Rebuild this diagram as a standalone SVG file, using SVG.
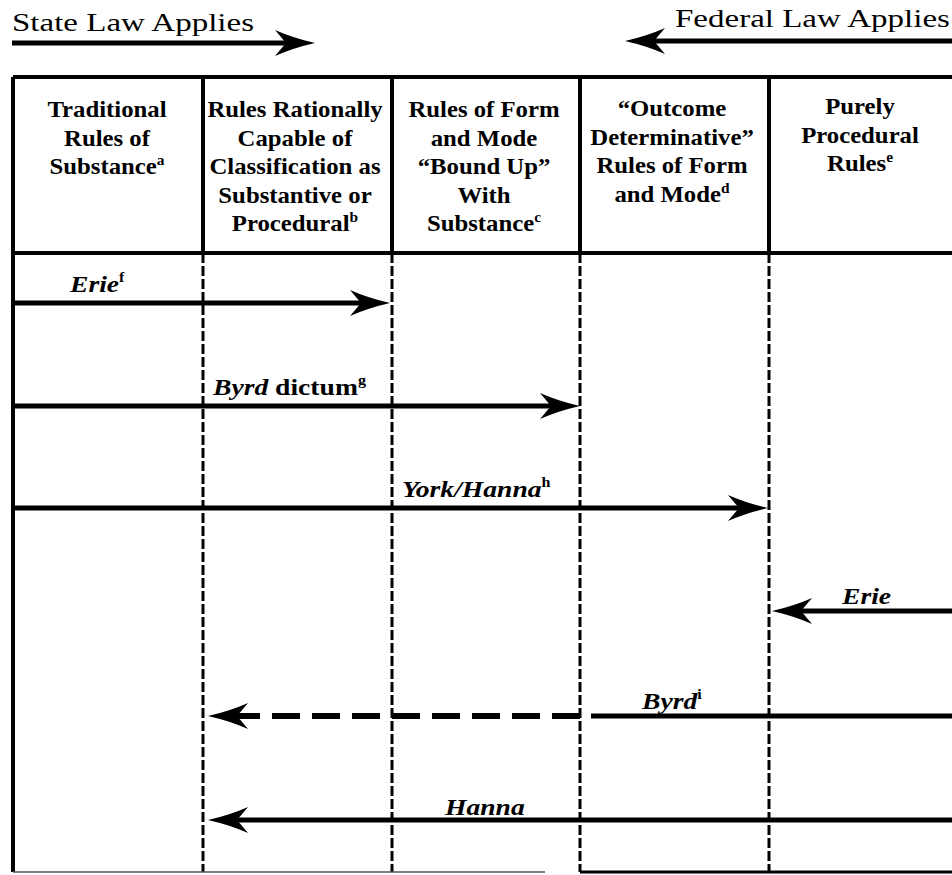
<svg xmlns="http://www.w3.org/2000/svg" width="952" height="875" viewBox="0 0 952 875">
<style>
text{font-family:"Liberation Serif","Times New Roman",serif;fill:#000}
.top{font-size:26px}
.h{font-size:22.5px;font-weight:bold;text-anchor:middle}
.lbl{font-size:24px;font-weight:bold;font-style:italic}
.up{font-style:normal}
.sup{font-size:14px;font-style:normal;font-weight:bold}
.hsup{font-size:14px}
.ar{stroke:#000;stroke-width:5;fill:none;marker-end:url(#ah)}
.ln{stroke:#000;stroke-width:5;fill:none}
.dashar{stroke:#000;stroke-width:6;fill:none;stroke-dasharray:28 12;marker-end:url(#ah)}
.bd{stroke:#000;stroke-width:4;fill:none}
.dv{stroke:#000;stroke-width:3;fill:none;stroke-dasharray:10 3}
</style>
<defs>
<marker id="ah" markerUnits="userSpaceOnUse" viewBox="0 0 40 26" markerWidth="40" markerHeight="26" refX="12" refY="13" orient="auto">
<path d="M40,13 Q18,8 0,0 L11,13 L0,26 Q18,18 40,13 Z" fill="#000"/>
</marker>
</defs>
<rect width="952" height="875" fill="#fff"/>

<g id="title-state">
<text class="top" transform="translate(12,31) scale(1.27,1)">State Law Applies</text>
<path class="ar" d="M12,43 H287"/>
</g>
<g id="title-federal">
<text class="top" transform="translate(675,27) scale(1.27,1)">Federal Law Applies</text>
<path class="ar" d="M952,41 H653"/>
</g>

<g id="table">
<path class="bd" d="M13,77 H952 M13,253 H952 M13,77 V872"/>
<path class="bd" d="M203,77 V253 M392,77 V253 M580,77 V253 M769,77 V253"/>
<path class="dv" d="M203,253 V872 M392,253 V872 M580,253 V872 M769,253 V872"/>
<path d="M13,872 H545" stroke="#555" stroke-width="1.5" fill="none"/>
<path d="M580,872 H952" stroke="#000" stroke-width="3" fill="none"/>
</g>

<g id="col-traditional">
<text class="h" transform="translate(107,117) scale(1.1,1)">Traditional</text>
<text class="h" transform="translate(107,145.5) scale(1.1,1)">Rules of</text>
<text class="h" transform="translate(107,174) scale(1.1,1)">Substance<tspan class="hsup" dy="-9">a</tspan></text>
</g>
<g id="col-rational">
<text class="h" transform="translate(295,117) scale(1.1,1)">Rules Rationally</text>
<text class="h" transform="translate(295,145.5) scale(1.1,1)">Capable of</text>
<text class="h" transform="translate(295,174) scale(1.1,1)">Classification as</text>
<text class="h" transform="translate(295,202.5) scale(1.1,1)">Substantive or</text>
<text class="h" transform="translate(295,231) scale(1.1,1)">Procedural<tspan class="hsup" dy="-9">b</tspan></text>
</g>
<g id="col-boundup">
<text class="h" transform="translate(484,117) scale(1.1,1)">Rules of Form</text>
<text class="h" transform="translate(484,145.5) scale(1.1,1)">and Mode</text>
<text class="h" transform="translate(484,174) scale(1.1,1)">“Bound Up”</text>
<text class="h" transform="translate(484,202.5) scale(1.1,1)">With</text>
<text class="h" transform="translate(484,231) scale(1.1,1)">Substance<tspan class="hsup" dy="-9">c</tspan></text>
</g>
<g id="col-outcome">
<text class="h" transform="translate(672,116) scale(1.1,1)">“Outcome</text>
<text class="h" transform="translate(672,144.5) scale(1.1,1)">Determinative”</text>
<text class="h" transform="translate(672,173) scale(1.1,1)">Rules of Form</text>
<text class="h" transform="translate(672,201.5) scale(1.1,1)">and Mode<tspan class="hsup" dy="-9">d</tspan></text>
</g>
<g id="col-procedural">
<text class="h" transform="translate(860,114) scale(1.1,1)">Purely</text>
<text class="h" transform="translate(860,142.5) scale(1.1,1)">Procedural</text>
<text class="h" transform="translate(860,171) scale(1.1,1)">Rules<tspan class="hsup" dy="-9">e</tspan></text>
</g>

<g id="connectors">
<path class="ar" d="M15,303 H362"/>
<path class="ar" d="M15,406 H552"/>
<path class="ar" d="M15,508 H740"/>
<path class="ar" d="M952,611 H800"/>
<path class="ln" d="M952,716 H591"/>
<path class="dashar" d="M580,716 H236"/>
<path class="ar" d="M952,820 H236"/>
</g>

<g id="labels">
<text class="lbl" transform="translate(70,292) scale(1.15,1)">Erie<tspan class="sup" dy="-10">f</tspan></text>
<text class="lbl" transform="translate(213,395) scale(1.15,1)">Byrd<tspan class="up"> dictum</tspan><tspan class="sup" dy="-10">g</tspan></text>
<text class="lbl" transform="translate(402,497) scale(1.15,1)">York/Hanna<tspan class="sup" dy="-10">h</tspan></text>
<text class="lbl" transform="translate(842,604) scale(1.15,1)">Erie</text>
<text class="lbl" transform="translate(642,709) scale(1.15,1)">Byrd<tspan class="sup" dy="-10">i</tspan></text>
<text class="lbl" transform="translate(445,815) scale(1.15,1)">Hanna</text>
</g>
</svg>
